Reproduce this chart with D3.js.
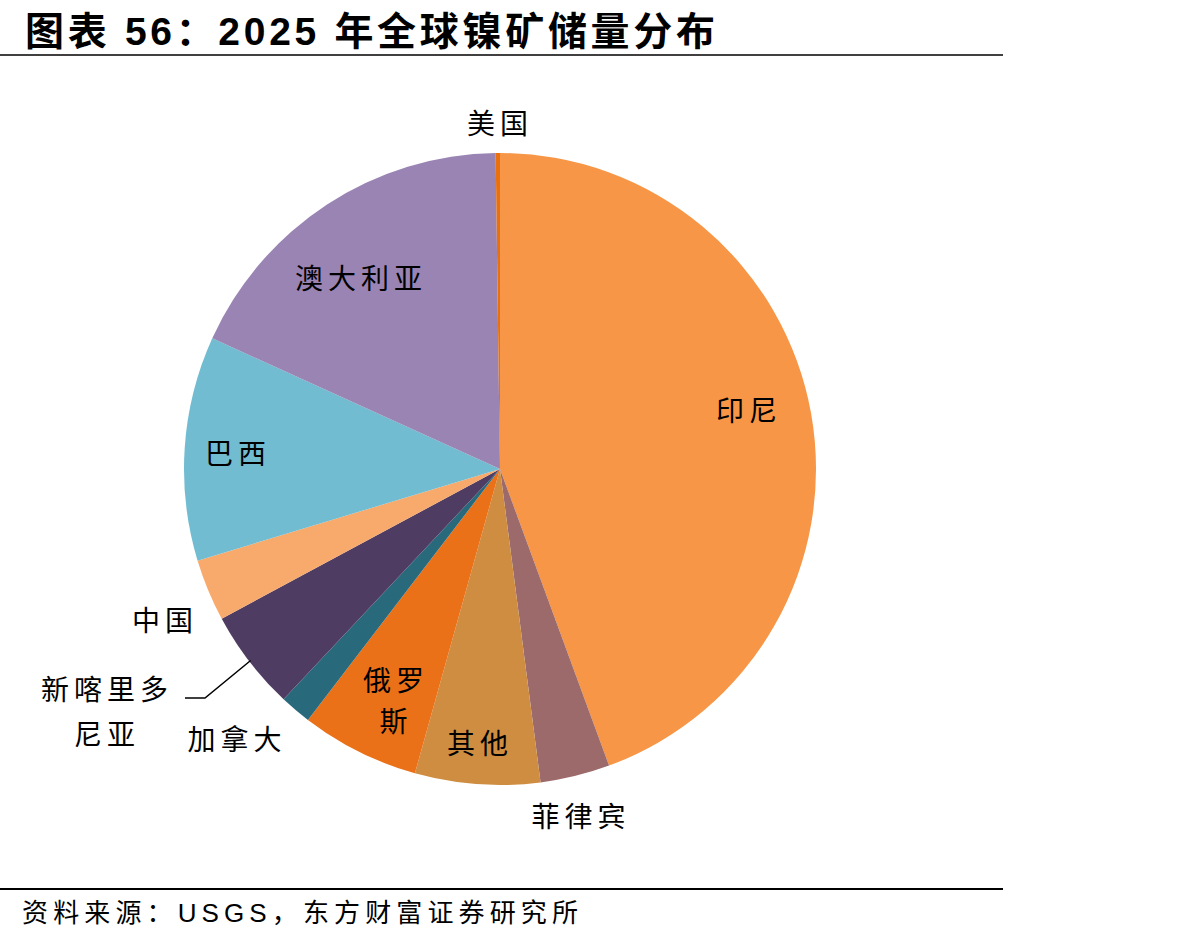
<!DOCTYPE html>
<html>
<head>
<meta charset="utf-8">
<script src="https://cdn.jsdelivr.net/npm/d3@7"></script>
<style>
  body { margin: 0; background: #fff; }
  svg text { font-family: "Noto Sans CJK SC", sans-serif; }
  svg text.frame { font-family: "Liberation Sans", "Noto Sans CJK SC", sans-serif; }
</style>
</head>
<body>
<div id="chart"></div>
<script>
// share of global nickel reserves, %, clockwise from 12 o'clock
const countries = ["印尼", "菲律宾", "其他", "俄罗斯", "加拿大", "新喀里多尼亚", "中国", "巴西", "澳大利亚", "美国"];
const shares = [44.4, 3.56, 6.39, 6.06, 1.61, 5.14, 3.17, 11.47, 18.0, 0.22];
const colors = ["#F79646", "#9C6A6B", "#CE8D40", "#EB7118", "#286A7C", "#4F3C62", "#F8AA6C", "#71BCD0", "#9A84B4", "#E8700E"];

const data = countries.map((c, i) => ({ name: c, value: shares[i] }));

// label offsets from the pie centre
const labelPos = {
    "印尼": [[249, -60]],
    "菲律宾": [[81, 346]],
    "其他": [[-20, 273]],
    "俄罗斯": [[-104, 210], [-104, 251]],
    "加拿大": [[-263, 269]],
    "新喀里多尼亚": [[-393, 219], [-393, 264]],
    "中国": [[-335, 150]],
    "巴西": [[-262, -17]],
    "澳大利亚": [[-139, -192]],
    "美国": [[0, -347]]
};
const labelText = {
    "俄罗斯": ["俄罗", "斯"],
    "新喀里多尼亚": ["新喀里多", "尼亚"]
};

const width = 1193;
const height = 944;
const cx = 500, cy = 469, radius = 316;

const svg = d3.select("#chart").append("svg").attr("width", width).attr("height", height);

svg.append("text").attr("class", "frame").attr("x", 25).attr("y", 45).attr("font-size", 39).attr("font-weight", "bold").attr("fill", "#000")
    .attr("textLength", 690).attr("lengthAdjust", "spacing").text("图表 56：2025 年全球镍矿储量分布");
svg.append("line").attr("x1", 0).attr("x2", 1003).attr("y1", 55).attr("y2", 55).attr("stroke", "#000").attr("stroke-width", 1.5);

const pie = d3.pie().value(d => d.value).sort(null);
const arc = d3.arc().innerRadius(0).outerRadius(radius);

const g = svg.append("g").attr("transform", `translate(${cx}, ${cy})`);

g.selectAll("path").data(pie(data)).enter().append("path").attr("d", arc).attr("fill", (d, i) => colors[i]).attr("stroke", "none");

data.forEach(d => {
    const lines = labelText[d.name] || [d.name];
    labelPos[d.name].forEach((p, j) => {
        g.append("text").attr("x", p[0]).attr("y", p[1]).attr("text-anchor", "middle").attr("dominant-baseline", "central").attr("font-size", 28).attr("letter-spacing", 5).attr("fill", "#000").text(lines[j]);
    });
});

// leader line for 新喀里多尼亚
const ncArc = pie(data)[5];
const mid = (ncArc.startAngle + ncArc.endAngle) / 2;
const edge = [Math.sin(mid) * radius * 0.995, -Math.cos(mid) * radius * 0.995];
g.append("polyline").attr("points", `${edge[0]},${edge[1]} ${-295},${229} ${-315},${229}`).attr("fill", "none").attr("stroke", "#000").attr("stroke-width", 1.5);

svg.append("line").attr("x1", 0).attr("x2", 1003).attr("y1", 889).attr("y2", 889).attr("stroke", "#000").attr("stroke-width", 2);
svg.append("text").attr("class", "frame").attr("x", 22).attr("y", 922).attr("font-size", 26).attr("fill", "#000")
    .attr("textLength", 556).attr("lengthAdjust", "spacing").text("资料来源：USGS，东方财富证券研究所");
</script>
</body>
</html>
